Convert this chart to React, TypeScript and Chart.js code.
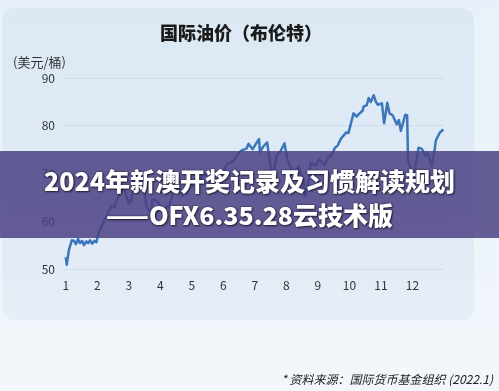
import React, { useEffect, useRef } from "react";
import { Chart, registerables } from "chart.js";

Chart.register(...registerables);

// Position along the year in months (1 = start of January, 13 = end of December)
const monthPos = [
  1.0, 1.03, 1.1, 1.19, 1.26, 1.32, 1.39, 1.45, 1.52, 1.58, 1.65, 1.71, 1.77, 1.84, 1.9, 1.97,
  2.03, 2.1, 2.17, 2.25, 2.32, 2.39, 2.46, 2.54, 2.61, 2.68, 2.79, 2.89,
  3.0, 3.07, 3.13, 3.16, 3.23, 3.32, 3.45, 3.55, 3.65, 3.71, 3.74, 3.81, 3.9, 3.97,
  4.13, 4.2, 4.27, 4.43, 4.5, 4.63, 4.7, 4.83, 4.93,
  5.03, 5.13, 5.26, 5.39, 5.58, 5.61, 5.68, 5.77, 5.87,
  6.0, 6.1, 6.2, 6.33, 6.5, 6.6, 6.73, 6.8, 6.93,
  7.03, 7.13, 7.16, 7.26, 7.39, 7.45, 7.58, 7.65, 7.71, 7.8, 7.94,
  8.03, 8.13, 8.16, 8.29, 8.39, 8.55, 8.61, 8.71, 8.77, 8.94,
  9.03, 9.2, 9.33, 9.43, 9.53, 9.63, 9.73, 9.9, 9.97,
  10.0, 10.13, 10.23, 10.29, 10.42, 10.45, 10.55, 10.61, 10.68, 10.77, 10.84, 10.9,
  11.03, 11.1, 11.2, 11.27, 11.37, 11.5, 11.57, 11.63, 11.77, 11.83, 11.86, 11.97,
  12.0, 12.06, 12.19, 12.29, 12.42, 12.48, 12.61, 12.71, 12.74, 12.87, 12.98,
];

// Brent price, USD per barrel
const brent = [
  52.5, 50.9, 54.0, 56.0, 55.9, 55.2, 56.3, 55.4, 55.9, 55.0, 55.8, 55.4, 56.0, 55.3, 55.9, 55.6,
  57.3, 58.5, 59.4, 60.6, 61.5, 62.4, 63.3, 62.9, 64.3, 65.2, 67.0, 66.1,
  63.7, 64.1, 66.7, 69.4, 68.2, 69.6, 68.9, 63.3, 62.1, 60.8, 64.4, 64.6, 64.1, 63.5,
  62.2, 63.2, 62.9, 66.6, 67.0, 66.6, 65.4, 66.4, 68.6,
  67.3, 69.0, 68.6, 69.7, 69.5, 66.7, 66.4, 68.5, 69.6,
  70.3, 71.9, 72.2, 72.7, 74.4, 74.9, 75.2, 76.2, 75.1,
  76.2, 77.2, 74.5, 75.6, 76.5, 73.5, 68.6, 72.2, 74.1, 74.5, 76.3,
  72.9, 71.4, 70.7, 70.6, 71.4, 68.2, 65.2, 68.8, 72.3, 71.6,
  73.0, 71.7, 73.5, 73.6, 75.3, 75.9, 77.3, 78.6, 78.5,
  79.3, 82.6, 81.9, 82.4, 83.2, 84.0, 84.3, 85.8, 85.0, 86.4, 85.0, 84.4,
  84.7, 80.5, 84.8, 82.6, 82.2, 80.3, 81.2, 78.9, 82.3, 82.2, 72.7, 70.6,
  68.9, 69.9, 75.4, 75.2, 73.7, 74.4, 71.5, 75.3, 76.9, 78.6, 79.2,
];

const xTicks = [1, 2, 3, 4, 5, 6, 7, 8, 9, 10, 11, 12];
const yTicks = [50, 60, 70, 80, 90];

const title = "国际油价（布伦特）";
const unitLabel = "(美元/桶)";
const bannerLine1 = "2024年新澳开奖记录及习惯解读规划";
const bannerLine2 = "——OFX6.35.28云技术版";
const sourceNote = "* 资料来源：国际货币基金组织 (2022.1)";

const FONT = '"Noto Sans CJK SC", "Noto Sans", sans-serif';

export default function App() {
  const canvasRef = useRef<HTMLCanvasElement | null>(null);

  useEffect(() => {
    const canvas = canvasRef.current;
    if (!canvas) return;
    const chart = new Chart(canvas, {
      type: "line",
      data: {
        datasets: [
          {
            data: monthPos.map((x, i) => ({ x, y: brent[i] })),
            borderColor: "#3b76bb",
            borderWidth: 2.5,
            pointRadius: 0,
            tension: 0,
            fill: false,
            borderJoinStyle: "round",
          },
        ],
      },
      options: {
        animation: false,
        responsive: false,
        maintainAspectRatio: false,
        layout: { padding: { left: 0, right: 55, top: 78, bottom: 92 } },
        plugins: { legend: { display: false }, tooltip: { enabled: false } },
        scales: {
          x: {
            type: "linear",
            min: 0.88,
            max: 13,
            afterBuildTicks: (s: any) => {
              s.ticks = xTicks.map((v) => ({ value: v }));
            },
            afterFit: (s: any) => {
              s.height = 30;
            },
            grid: { display: false, drawTicks: false },
            border: { display: false },
            ticks: {
              padding: 9,
              color: "#333",
              autoSkip: false,
              maxRotation: 0,
              font: { family: FONT, size: 12 },
            },
          },
          y: {
            min: 50,
            max: 90,
            afterBuildTicks: (s: any) => {
              s.ticks = yTicks.map((v) => ({ value: v }));
            },
            afterFit: (s: any) => {
              s.width = 62;
            },
            grid: { color: "#cfdbe8", lineWidth: 1, drawTicks: false },
            border: { display: false },
            ticks: {
              padding: 7,
              color: "#333",
              font: { family: FONT, size: 12 },
            },
          },
        },
      },
    });
    return () => chart.destroy();
  }, []);

  return (
    <div
      style={{
        position: "fixed",
        left: 0,
        top: 0,
        width: 499,
        height: 391,
        overflow: "hidden",
        background: "linear-gradient(180deg, #e8f1f9 0%, #edf4fa 60%, #f2f7fb 100%)",
        fontFamily: FONT,
      }}
    >
      <div
        style={{
          position: "absolute",
          left: 2,
          top: 8,
          width: 472,
          height: 312,
          borderRadius: 12,
          background: "linear-gradient(180deg, #dce9f5 0%, #dfeaf5 60%, #e6eef7 100%)",
        }}
      />
      <canvas
        ref={canvasRef}
        width={499}
        height={391}
        style={{ position: "absolute", left: 0, top: 0, width: 499, height: 391 }}
      />
      <div
        style={{
          position: "absolute",
          left: 0,
          width: 482,
          top: 20,
          textAlign: "center",
          fontSize: 18,
          fontWeight: 900,
          color: "#1a1a1a",
          lineHeight: "24px",
        }}
      >
        {title}
      </div>
      <div
        style={{
          position: "absolute",
          left: 13,
          top: 53,
          fontSize: 13,
          color: "#333",
          lineHeight: "18px",
        }}
      >
        {unitLabel}
      </div>
      <div
        style={{
          position: "absolute",
          left: 0,
          top: 151,
          width: 499,
          height: 87,
          background: "rgba(75, 66, 132, 0.85)",
        }}
      />
      <div
        style={{
          position: "absolute",
          left: 0,
          top: 163,
          width: 499,
          textAlign: "center",
          color: "#ffffff",
          fontWeight: 900,
          fontSize: 25,
          lineHeight: "34px",
          textShadow: "0 0 2px rgba(20,20,40,0.9), 1px 1px 2px rgba(20,20,40,0.8)",
        }}
      >
        <div>{bannerLine1}</div>
        <div>{bannerLine2}</div>
      </div>
      <div
        style={{
          position: "absolute",
          right: 6,
          top: 370,
          fontSize: 12,
          fontStyle: "italic",
          color: "#222",
          lineHeight: "18px",
          whiteSpace: "nowrap",
        }}
      >
        {sourceNote}
      </div>
    </div>
  );
}
